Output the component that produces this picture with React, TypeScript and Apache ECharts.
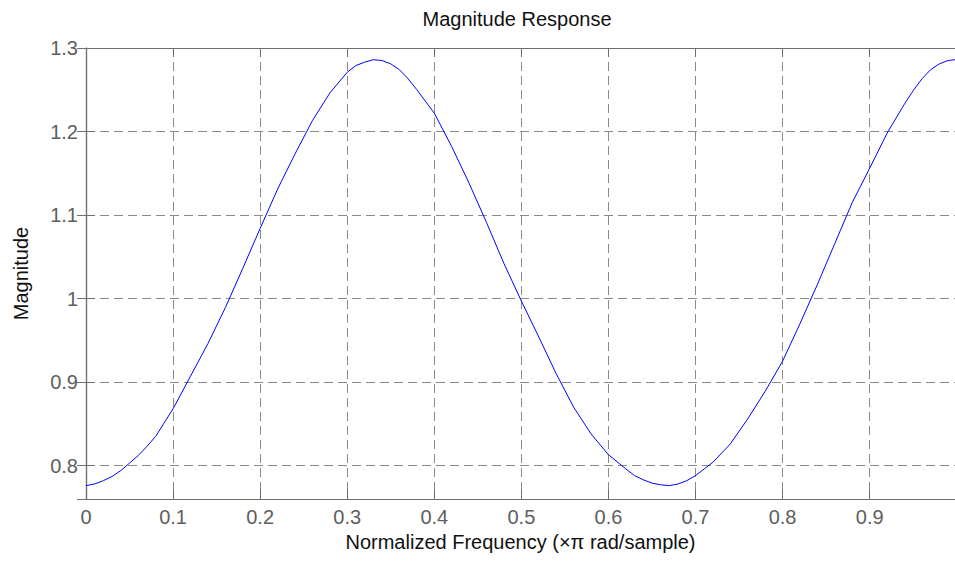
import React, { useEffect, useRef } from "react";
import * as echarts from "echarts";

// Normalized frequency (×π rad/sample) sample positions
const freq: number[] = [
  0.0, 0.01, 0.02, 0.03, 0.04, 0.05, 0.06, 0.07, 0.08, 0.1, 0.12, 0.14, 0.16, 0.18,
  0.2, 0.22, 0.24, 0.26, 0.28, 0.3, 0.31, 0.32, 0.33, 0.34, 0.35, 0.36, 0.37, 0.38,
  0.4, 0.42, 0.44, 0.46, 0.48, 0.5, 0.52, 0.54, 0.56, 0.58,
  0.6, 0.62, 0.63, 0.64, 0.65, 0.66, 0.67, 0.68, 0.69, 0.7, 0.71, 0.72, 0.74, 0.76, 0.78,
  0.8, 0.82, 0.84, 0.86, 0.88, 0.9, 0.92, 0.94, 0.95, 0.96, 0.97, 0.98, 0.99, 0.998,
];

// Magnitude values
const magnitude: number[] = [
  0.776, 0.778, 0.782, 0.787, 0.794, 0.803, 0.812, 0.823, 0.835, 0.868, 0.907, 0.946, 0.989, 1.036,
  1.084, 1.131, 1.173, 1.213, 1.246, 1.271, 1.279, 1.283, 1.286, 1.285, 1.281, 1.274, 1.263, 1.25,
  1.222, 1.182, 1.138, 1.091, 1.042, 0.997, 0.954, 0.91, 0.87, 0.838,
  0.813, 0.796, 0.788, 0.783, 0.779, 0.777, 0.776, 0.778, 0.782, 0.788, 0.796, 0.804, 0.826, 0.856, 0.889,
  0.925, 0.97, 1.017, 1.066, 1.115, 1.156, 1.198, 1.233, 1.249, 1.263, 1.274, 1.281, 1.285, 1.286,
];

const titleText = "Magnitude Response";
const xName = "Normalized Frequency (\u00d7\u03c0 rad/sample)";
const yName = "Magnitude";
const xRange: number[] = [0, 0.998];
const yRange: number[] = [0.76, 1.3];

const FONT = "'Liberation Sans', Arial, Helvetica, sans-serif";

export default function App() {
  const ref = useRef<HTMLDivElement>(null);

  useEffect(() => {
    if (!ref.current) return;
    const chart = echarts.init(ref.current, undefined, { renderer: "svg" });
    const axisLineColor = "#6f6f6f";
    const gridColor = "#8a8a8a";
    const labelColor = "#5e5e5e";
    const splitLine = {
      show: true,
      lineStyle: { color: gridColor, width: 1, type: [9, 5] as any },
    };
    const option: any = {
      animation: false,
      backgroundColor: "#ffffff",
      title: {
        text: titleText,
        left: 517,
        textAlign: "center",
        top: 9,
        padding: 0,
        textStyle: {
          fontFamily: FONT,
          fontSize: 20,
          fontWeight: "normal",
          color: "#111111",
        },
      },
      grid: { left: 86, top: 48, right: -5, bottom: 64, containLabel: false },
      xAxis: [
        {
          type: "value",
          min: xRange[0],
          max: xRange[1],
          splitNumber: 10,
          name: xName,
          nameLocation: "middle",
          nameGap: 30,
          nameTextStyle: { fontFamily: FONT, fontSize: 20, color: "#111111" },
          axisLine: { show: true, lineStyle: { color: axisLineColor, width: 1.2 } },
          axisTick: { show: true, inside: true, length: 9, lineStyle: { color: axisLineColor } },
          axisLabel: {
            show: true,
            margin: 8,
            fontFamily: FONT,
            fontSize: 20,
            color: labelColor,
            showMaxLabel: false,
          },
          splitLine,
        },
        {
          type: "value",
          position: "top",
          min: xRange[0],
          max: xRange[1],
          splitNumber: 10,
          axisLine: { show: true, lineStyle: { color: axisLineColor, width: 1.2 } },
          axisTick: { show: true, inside: true, length: 9, lineStyle: { color: axisLineColor } },
          axisLabel: { show: false },
          splitLine: { show: false },
        },
      ],
      yAxis: [
        {
          type: "value",
          min: yRange[0],
          max: yRange[1],
          splitNumber: 5,
          name: yName,
          nameLocation: "middle",
          nameGap: 55,
          nameTextStyle: { fontFamily: FONT, fontSize: 20, color: "#111111" },
          axisLine: { show: true, lineStyle: { color: axisLineColor, width: 1.2 } },
          axisTick: { show: true, inside: true, length: 9, lineStyle: { color: axisLineColor } },
          axisLabel: {
            show: true,
            margin: 8,
            fontFamily: FONT,
            fontSize: 20,
            color: labelColor,
            showMinLabel: false,
          },
          splitLine,
        },
        {
          type: "value",
          position: "right",
          min: yRange[0],
          max: yRange[1],
          splitNumber: 5,
          axisLine: { show: true, lineStyle: { color: axisLineColor, width: 1.2 } },
          axisTick: { show: true, inside: true, length: 9 },
          axisLabel: { show: false },
          splitLine: { show: false },
        },
      ],
      series: [
        {
          type: "line",
          xAxisIndex: 0,
          yAxisIndex: 0,
          data: freq.map((f, i) => [f, magnitude[i]]),
          showSymbol: false,
          symbol: "none",
          smooth: false,
          lineStyle: { color: "#0000ff", width: 1 },
          z: 5,
        },
      ],
    };
    chart.setOption(option);
    return () => {
      chart.dispose();
    };
  }, []);

  return (
    <div
      ref={ref}
      style={{ position: "fixed", left: 0, top: 0, width: 955, height: 563, background: "#fff" }}
    />
  );
}
